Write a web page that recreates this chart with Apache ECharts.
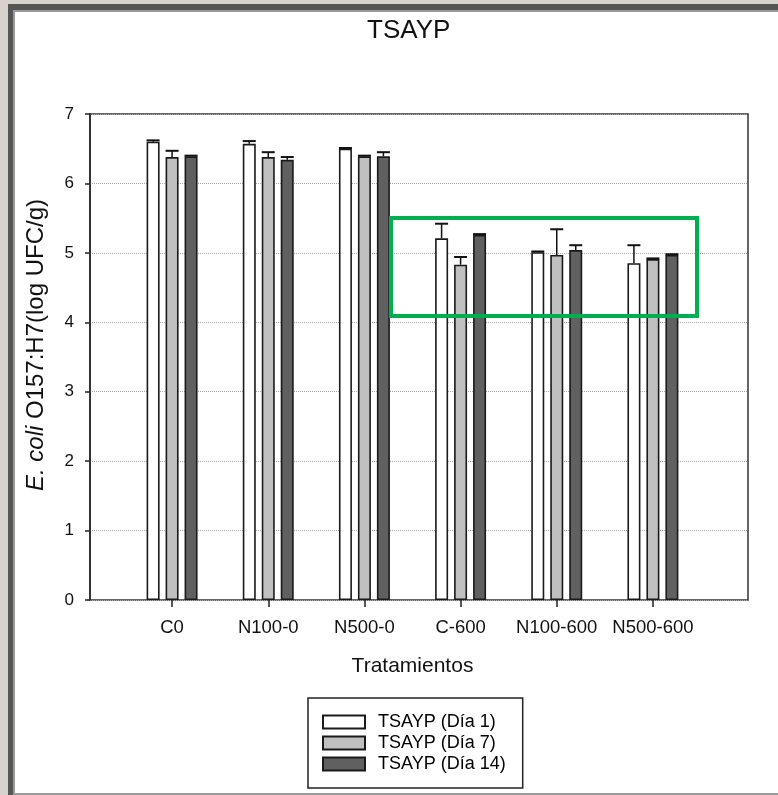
<!DOCTYPE html>
<html>
<head>
<meta charset="utf-8">
<script src="https://cdn.jsdelivr.net/npm/echarts@6/dist/echarts.min.js"></script>
<style>
  html, body { margin: 0; padding: 0; }
  body { background: #d7d2cb; width: 778px; height: 795px; position: relative; overflow: hidden; }
  #f1 { position: absolute; left: 8px; top: 4px; width: 770px; height: 791px; background: #565656; }
  #f2 { position: absolute; left: 13px; top: 10px; width: 765px; height: 785px; background: #9a9a9a; }
  #f3 { position: absolute; left: 15px; top: 12px; width: 763px; height: 781px; background: #ffffff; }
  #chart { position: absolute; left: 0; top: 0; width: 778px; height: 795px; }
</style>
</head>
<body>
<div id="f1"></div><div id="f2"></div><div id="f3"></div>
<div id="chart"></div>
<script>
// ---- data ----
const categories = ['C0', 'N100-0', 'N500-0', 'C-600', 'N100-600', 'N500-600'];
const seriesNames = ['TSAYP (Día 1)', 'TSAYP (Día 7)', 'TSAYP (Día 14)'];
const dia1 = [6.60, 6.57, 6.50, 5.21, 5.01, 4.85];
const dia7 = [6.38, 6.38, 6.39, 4.83, 4.97, 4.91];
const dia14 = [6.39, 6.34, 6.39, 5.26, 5.04, 4.97];
const err1 = [0.02, 0.04, 0.01, 0.21, 0.01, 0.26];
const err7 = [0.09, 0.07, 0.01, 0.11, 0.37, 0.01];
const err14 = [0.01, 0.04, 0.06, 0.01, 0.07, 0.01];
const yTicks = [0, 1, 2, 3, 4, 5, 6, 7];

// ---- styling ----
const FONT = "'Liberation Sans', Arial, sans-serif";
const fills = ['#ffffff', '#c0c0c0', '#606060'];
const BAR_W = 13;
const OFFS = [-19, 0, 19];
const values = [dia1, dia7, dia14];
const errs = [err1, err7, err14];

const chart = echarts.init(document.getElementById('chart'), null, { renderer: 'canvas' });

const barSeries = values.map((vals, k) => ({
  name: seriesNames[k],
  type: 'bar',
  xAxisIndex: 1,
  yAxisIndex: 1,
  data: vals,
  barWidth: BAR_W,
  barGap: '46%',
  itemStyle: { color: fills[k], borderColor: '#1a1a1a', borderWidth: 1.6 },
  z: 3
}));

const errSeries = values.map((vals, k) => ({
  name: 'err' + k,
  type: 'custom',
  xAxisIndex: 1,
  yAxisIndex: 1,
  z: 4,
  data: vals.map((v, i) => [i, v, errs[k][i]]),
  renderItem: function (params, api) {
    const xi = api.value(0), v = api.value(1), e = api.value(2);
    const base = api.coord([xi, v]);
    const top = api.coord([xi, v + e]);
    const cx = base[0] + OFFS[k];
    return {
      type: 'group',
      children: [
        { type: 'line', shape: { x1: cx, y1: base[1], x2: cx, y2: top[1] }, style: { stroke: '#111', lineWidth: 1.5 } },
        { type: 'line', shape: { x1: cx - 6.5, y1: top[1], x2: cx + 6.5, y2: top[1] }, style: { stroke: '#111', lineWidth: 2 } }
      ]
    };
  }
}));

const option = {
  animation: false,
  textStyle: { fontFamily: FONT },
  title: {
    text: 'TSAYP',
    left: 367,
    top: 18,
    padding: 0,
    textStyle: { fontFamily: FONT, fontSize: 26, fontWeight: 'normal', color: '#111' }
  },
  legend: {
    data: seriesNames.map(n => ({ name: n, icon: 'rect' })),
    orient: 'vertical',
    left: 308,
    top: 698,
    padding: [15, 17, 15, 14],
    itemWidth: 42,
    itemHeight: 13,
    itemGap: 3,
    borderColor: '#222',
    borderWidth: 1.5,
    selectedMode: false,
    textStyle: { fontFamily: FONT, fontSize: 18, color: '#000', lineHeight: 18, padding: [0, 0, 0, 8] }
  },
  grid: [
    { left: 90, top: 114, width: 658, height: 486, show: true, borderColor: '#333', borderWidth: 1.5, backgroundColor: 'transparent' },
    { left: 124, top: 114, width: 577, height: 486 }
  ],
  xAxis: [
    { type: 'value', gridIndex: 0, show: false, min: 0, max: 1 },
    {
      type: 'category',
      gridIndex: 1,
      data: categories,
      axisLine: { show: false },
      axisTick: { show: true, alignWithLabel: true, length: 7, lineStyle: { color: '#222', width: 1.5 } },
      axisLabel: { interval: 0, margin: 18, fontSize: 18.5, color: '#111', fontFamily: FONT },
      name: 'Tratamientos',
      nameLocation: 'middle',
      nameGap: 56,
      nameTextStyle: { fontSize: 21, color: '#111', fontFamily: FONT }
    }
  ],
  yAxis: [
    {
      type: 'value',
      gridIndex: 0,
      min: yTicks[0],
      max: yTicks[yTicks.length - 1],
      interval: 1,
      axisLine: { show: true, lineStyle: { color: '#222', width: 1.5 } },
      axisTick: { show: true, length: 5, lineStyle: { color: '#222', width: 1.5 } },
      axisLabel: { margin: 16, fontSize: 17, color: '#111', fontFamily: FONT },
      splitLine: { show: true, lineStyle: { color: '#aaaaaa', type: 'dotted', width: 1 } },
      name: '{i|E. coli} O157:H7(log UFC/g)',
      nameLocation: 'middle',
      nameGap: 42,
      nameTextStyle: {
        fontSize: 24, color: '#111', fontFamily: FONT,
        padding: [0, 0, 0, 24],
        rich: { i: { fontStyle: 'italic', fontSize: 24, color: '#111', fontFamily: FONT } }
      }
    },
    { type: 'value', gridIndex: 1, min: 0, max: 7, show: false, splitLine: { show: false } }
  ],
  graphic: [
    {
      type: 'rect',
      z: 100,
      shape: { x: 391, y: 218, width: 306, height: 98 },
      style: { fill: 'none', stroke: '#00b050', lineWidth: 4 }
    }
  ],
  series: barSeries.concat(errSeries)
};

chart.setOption(option);
</script>
</body>
</html>
